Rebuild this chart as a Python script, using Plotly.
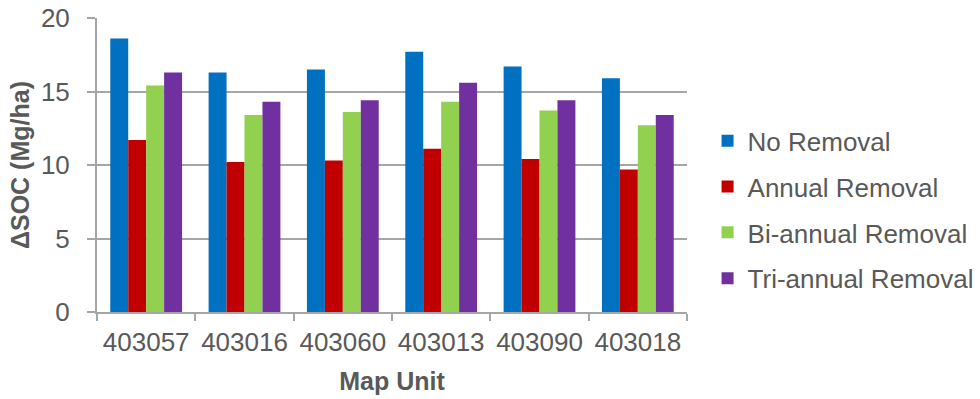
import plotly.graph_objects as go

map_units = ["403057", "403016", "403060", "403013", "403090", "403018"]
no_removal = [18.6, 16.3, 16.5, 17.7, 16.7, 15.9]
annual_removal = [11.7, 10.2, 10.3, 11.1, 10.4, 9.7]
biannual_removal = [15.4, 13.4, 13.6, 14.3, 13.7, 12.7]
triannual_removal = [16.3, 14.3, 14.4, 15.6, 14.4, 13.4]

series = [
    ("No Removal", no_removal, "#0070C0"),
    ("Annual Removal", annual_removal, "#C00000"),
    ("Bi-annual Removal", biannual_removal, "#92D050"),
    ("Tri-annual Removal", triannual_removal, "#7030A0"),
]

font_family = "Liberation Sans, Arial, sans-serif"
text_color = "#595959"
grid_color = "#A6A6A6"

fig = go.Figure()
for i, (name, vals, color) in enumerate(series):
    fig.add_trace(go.Bar(
        x=map_units, y=vals, name=name,
        marker=dict(color=color, line=dict(width=0)),
        legendgroup=f"g{i}",
    ))

fig.update_layout(
    width=980, height=399,
    margin=dict(l=97, r=293, t=18, b=87, autoexpand=False),
    paper_bgcolor="white", plot_bgcolor="white",
    barmode="group", bargap=0.27, bargroupgap=0,
    font=dict(family=font_family, color=text_color, size=26),
    showlegend=True,
    legend=dict(
        xref="container", x=0.722, xanchor="left",
        yref="container", y=0.474, yanchor="middle",
        font=dict(size=26, color=text_color),
        traceorder="grouped", tracegroupgap=9,
        bgcolor="rgba(0,0,0,0)",
    ),
    xaxis=dict(
        showline=True, linecolor=grid_color, linewidth=2,
        ticks="outside", tickson="boundaries", ticklen=7, tickwidth=2, tickcolor=grid_color,
        tickfont=dict(size=26, color=text_color),
        ticklabelstandoff=6,
        title=dict(text="<b>Map Unit</b>", font=dict(size=25, color=text_color), standoff=16),
        showgrid=False,
    ),
    yaxis=dict(
        range=[0, 20], dtick=5, tick0=0,
        showline=True, linecolor=grid_color, linewidth=2,
        ticks="outside", ticklen=8, tickwidth=2, tickcolor=grid_color,
        showgrid=True, gridcolor=grid_color, gridwidth=2,
        zeroline=False,
        tickfont=dict(size=26, color=text_color),
        ticklabelstandoff=12,
        title=dict(text="<b>ΔSOC (Mg/ha)</b>", font=dict(size=25, color=text_color), standoff=4),
    ),
)

fig.write_html("out.html")
